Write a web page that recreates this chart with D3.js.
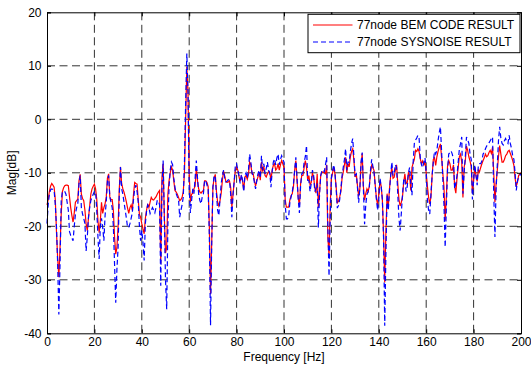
<!DOCTYPE html>
<html>
<head>
<meta charset="utf-8">
<script src="https://cdn.jsdelivr.net/npm/d3@7"></script>
<style>
  body { margin: 0; background: #fff; }
  svg { display: block; font-family: 'Liberation Sans', Arial, sans-serif; }
</style>
</head>
<body>
<div id="chart"></div>
<script>
// frequency step of the two spectra, Hz (0 .. 200)
const freqStep = 0.5;

// 77node BEM CODE RESULT, dB, one row = 10 Hz
const bemValues = [
  -16, -15, -13.5, -12.5, -12, -12.3, -12.7, -15, -21, -26, -29.5, -24, -17.7, -13.5, -12.8, -12.4, -12.3, -12.3, -12.4, -14.5,
  -16.5, -18, -19.2, -17.5, -15.5, -15.2, -14.9, -11.5, -10.3, -14, -14.8, -15.2, -17, -19.5, -20.8, -18.5, -16.2, -14, -13, -12.5,
  -12.1, -13, -15, -19, -21.2, -19, -15.5, -17.6, -16.5, -15.8, -14.5, -11, -10.2, -14.5, -15, -15, -17, -22, -25.2, -24,
  -20, -13, -8.9, -12, -13, -13.6, -14.5, -15.5, -16.6, -17.6, -16.5, -16, -17, -14, -11.8, -12, -12.1, -15, -17.8, -18.3,
  -19.5, -20.5, -21.4, -18.5, -17, -15.8, -16.5, -15.5, -14.6, -15, -15.1, -14.8, -14.5, -14, -13.6, -13.3, -27, -11, -8.3, -18,
  -25, -24, -14, -11.5, -10, -8.9, -9.5, -11.5, -13.3, -13.6, -14, -14.6, -15.2, -15, -14.6, -13.5, -10, 0, 9.8, 5,
  -10.2, -15.5, -14, -13.8, -13, -12.5, -9, -11.5, -13, -13.6, -13.8, -13.5, -13.3, -11.5, -11.5, -11.8, -12.6, -20, -32.7, -23,
  -12.7, -11, -10.3, -13.5, -15.5, -16.2, -15.2, -13.8, -11.4, -9.7, -10.6, -11.7, -11.8, -11.7, -11.5, -12.7, -16.4, -14, -11.5, -9.5,
  -8.9, -9.5, -10.7, -11.6, -10.7, -11.5, -13.2, -10.8, -10.5, -11.2, -10.3, -8, -8.5, -10.2, -10.2, -11.4, -12.5, -11.5, -10.8, -9.8,
  -11.4, -8, -9.8, -8.8, -10.5, -10.8, -10.2, -9.8, -10, -11.3, -9.5, -8.6, -8.3, -9.5, -9.2, -8.3, -9.5, -8.5, -7.7, -8.3,
  -9, -15, -16.4, -16.4, -16.4, -15, -14.3, -13.9, -12.5, -9.5, -7.7, -11.4, -14.6, -16.2, -12, -10.5, -10.5, -9, -7.7, -9,
  -11.4, -10.5, -12.3, -11.8, -10, -10.8, -12.8, -13.8, -10.2, -16.5, -13.5, -10.5, -9.8, -9.9, -10, -10.2, -8.5, -22, -25.5, -16,
  -11, -10, -9, -10.2, -12.6, -15.6, -15.3, -14.5, -13.5, -11, -9.9, -8.5, -7.1, -10, -8.3, -8.9, -7, -6, -5.5, -7.7,
  -10.8, -10.2, -12.4, -14.4, -13, -8.5, -6.4, -12.6, -15.1, -13.9, -13, -13.5, -12.5, -10, -8.6, -9, -9.6, -12.3, -14.8, -16,
  -14, -11.4, -12.5, -15, -21.4, -30.5, -21, -13.9, -16.4, -13, -10.5, -9, -11, -10.8, -9.5, -8.5, -12, -15, -16.2, -15.5,
  -14.5, -11.8, -10.2, -12, -11.8, -10, -10.5, -13.3, -9, -8.2, -7.5, -5.8, -6, -5.5, -6, -7.4, -8.3, -7.8, -8.5, -7.9,
  -10, -12.5, -14.5, -15.8, -14.5, -10.5, -7.5, -7.2, -8.6, -7, -6, -5.2, -4.6, -7.2, -10, -12.6, -18.9, -14.5, -8.8, -7.7,
  -8.3, -9.5, -9.5, -8.5, -12.6, -13.8, -11, -9, -7, -6.5, -8, -14.6, -9, -7.8, -5, -5.8, -7, -7.8, -8.8, -13.8,
  -11.4, -9, -10.5, -11.6, -9.5, -9.8, -9, -8.3, -7.7, -7.2, -6.5, -7, -6.8, -6.2, -5.8, -6.4, -5.2, -10, -15.5, -12,
  -9.5, -7, -4.9, -6.5, -8, -8, -7.5, -6.8, -6.5, -6, -5.8, -6.4, -7, -7.7, -8.6, -11, -12.5, -11.8, -10.5, -10.2,
  -10
];

// 77node SYSNOISE RESULT, dB, one row = 10 Hz
const sysnoiseValues = [
  -19.5, -16, -14, -13.2, -13, -13.1, -13.3, -16, -20, -27, -36.5, -27, -15.2, -13.5, -13.5, -13.5, -14, -15.5, -17, -21,
  -21.7, -22.2, -22.7, -20, -17.7, -16.5, -15.8, -12, -10.5, -16.5, -17.7, -18.5, -19.5, -24.6, -22, -18.3, -16.5, -15.2, -14.5, -14,
  -13.5, -13.5, -17, -22, -26.1, -20, -18.5, -20.2, -22.7, -18, -15.5, -11.5, -10.5, -14.5, -15.5, -16.5, -20, -27, -34.3, -28,
  -24, -14, -8.9, -13, -14, -15.5, -17, -18.5, -20.2, -20.2, -19.5, -18.5, -17.5, -15, -13, -12.3, -13.5, -15.5, -20, -22.7,
  -20.8, -23, -26.4, -19.5, -17.2, -16, -16.5, -17.6, -17, -16.5, -17, -17.5, -16.5, -15.2, -15.2, -16, -31.1, -13, -7.7, -18,
  -30, -35.5, -20, -12.5, -9.5, -8, -8.5, -11, -12.7, -13.9, -14.5, -15, -18.3, -17, -16, -14.5, -8, 3, 12.3, 5,
  -12.7, -17.5, -15.2, -13, -13.9, -11, -7.7, -11, -14, -15.2, -15.8, -14.5, -13.9, -11.4, -11.5, -12.3, -13, -22, -38.5, -23,
  -12.7, -10.5, -10.8, -14, -17, -18, -15, -12, -10.5, -9.5, -11, -11.7, -11.6, -11.3, -11.4, -14, -18.3, -14, -11.5, -8.5,
  -8.3, -9.5, -10.5, -12, -10.3, -11.3, -13.5, -10.5, -10, -11, -9.5, -6.5, -8, -10, -10.5, -11.8, -13, -11.5, -10.2, -9.5,
  -11, -6.8, -9.5, -8.3, -10.2, -9.2, -8, -9.5, -10, -12.7, -9.8, -8, -7.4, -8.5, -7.2, -6.5, -8.5, -7.5, -6.8, -7.5,
  -8, -16, -18.6, -18.6, -18, -15.5, -14.5, -13.5, -12, -9.5, -7.1, -11, -15, -17.5, -12.5, -10.2, -10, -8, -7, -4.9,
  -11.4, -11.5, -13.5, -12, -9.5, -10.5, -13.5, -13, -12, -20.2, -14, -10.5, -9.5, -9.5, -9.8, -8.5, -7.1, -20, -29.3, -18.5,
  -11, -9.5, -8.5, -10, -13, -16.6, -16.1, -15, -13, -10.5, -9, -7.5, -5.5, -9.5, -8, -8, -6, -4.5, -3.6, -7,
  -10.5, -10.2, -12.8, -15.6, -13, -8, -6.2, -13, -19.6, -16, -14, -13.5, -12.7, -9.5, -7.5, -8.8, -10, -12.5, -15, -17,
  -15, -11, -12.5, -15, -22, -38.6, -25, -14, -17, -13.5, -10.5, -8, -10.5, -10, -8.5, -9, -14, -18.5, -20.8, -17.6,
  -14, -11.4, -11, -13.5, -12.6, -10, -9, -12, -14.2, -8, -4.5, -3.9, -3.5, -3, -3.5, -7.2, -8.5, -9, -8, -7.2,
  -10, -15, -17, -17.7, -14, -10.5, -8, -6, -6.5, -5.8, -4, -2.5, -1.4, -6, -11, -16, -23.9, -16.6, -9.5, -6.5,
  -6.2, -5.9, -6.5, -7.5, -13, -12, -10.5, -8, -5.5, -4.5, -3.3, -13.9, -10, -7, -3.3, -3.8, -4.5, -6.5, -7.5, -15,
  -11.4, -8.5, -10.5, -12.3, -8.6, -8.3, -8.3, -7.8, -6.5, -6.2, -5.5, -5, -4.8, -4.4, -4, -3.6, -3.3, -14, -22, -13,
  -8.5, -4, -1.4, -3.5, -4.5, -4.8, -4, -3.6, -4.2, -4.5, -3, -4.5, -5.5, -6.8, -7.5, -10, -13.3, -11.5, -10.8, -10.5,
  -10.2
];

const xTicks = [0, 20, 40, 60, 80, 100, 120, 140, 160, 180, 200];
const yTicks = [-40, -30, -20, -10, 0, 10, 20];
const seriesNames = ['77node BEM CODE RESULT', '77node SYSNOISE RESULT'];

const width = 531, height = 367;
const margin = {top: 12.3, right: 10, bottom: 33.7, left: 47};
const innerW = width - margin.left - margin.right;
const innerH = height - margin.top - margin.bottom;

const svg = d3.select('#chart').append('svg')
  .attr('width', width)
  .attr('height', height);

const g = svg.append('g')
  .attr('transform', 'translate(' + margin.left + ',' + margin.top + ')');

const x = d3.scaleLinear().domain([0, 200]).range([0, innerW]);
const y = d3.scaleLinear().domain([-40, 20]).range([innerH, 0]);

// grid (dashed, MATLAB style)
g.append('g').selectAll('line')
  .data(xTicks.slice(1, -1))
  .enter().append('line')
  .attr('x1', d => x(d)).attr('x2', d => x(d))
  .attr('y1', 0).attr('y2', innerH)
  .attr('stroke', '#333').attr('stroke-width', 1)
  .attr('stroke-dasharray', '8,4.5');

g.append('g').selectAll('line')
  .data(yTicks.slice(1, -1))
  .enter().append('line')
  .attr('x1', 0).attr('x2', innerW)
  .attr('y1', d => y(d)).attr('y2', d => y(d))
  .attr('stroke', '#333').attr('stroke-width', 1)
  .attr('stroke-dasharray', '8,4.5');

const toPoints = vals => vals.map((v, i) => ({f: i * freqStep, v: v}));

const line = d3.line()
  .x(d => x(d.f))
  .y(d => y(d.v));

plot = g.append('g');

plot.append('path')
  .datum(toPoints(bemValues))
  .attr('d', line)
  .attr('fill', 'none')
  .attr('stroke', '#ff0000')
  .attr('stroke-width', 1.2);

plot.append('path')
  .datum(toPoints(sysnoiseValues))
  .attr('d', line)
  .attr('fill', 'none')
  .attr('stroke', '#0000ff')
  .attr('stroke-width', 1.2)
  .attr('stroke-dasharray', '5,3');

// axes: ticks point inwards, box on all sides
const fmt = d => String(d);
g.append('g')
  .attr('transform', 'translate(0,' + innerH + ')')
  .call(d3.axisBottom(x).tickValues(xTicks).tickSize(-4).tickPadding(4.5).tickFormat(fmt));
g.append('g')
  .call(d3.axisLeft(y).tickValues(yTicks).tickSize(-4).tickPadding(5.5).tickFormat(fmt));
g.append('g')
  .call(d3.axisTop(x).tickValues(xTicks).tickSize(-4).tickFormat(''));
g.append('g')
  .attr('transform', 'translate(' + innerW + ',0)')
  .call(d3.axisRight(y).tickValues(yTicks).tickSize(-4).tickFormat(''));

g.selectAll('.domain').attr('stroke', '#000');
g.selectAll('.tick line').attr('stroke', '#000');
g.selectAll('.tick text')
  .attr('fill', '#000')
  .style('font-size', '12px')
  .style('font-family', "'Liberation Sans', Arial, sans-serif");

// axis labels
svg.append('text')
  .attr('x', margin.left + innerW / 2)
  .attr('y', 361)
  .attr('text-anchor', 'middle')
  .attr('font-size', 12)
  .text('Frequency [Hz]');

svg.append('text')
  .attr('transform', 'translate(16,' + (margin.top + innerH / 2) + ') rotate(-90)')
  .attr('text-anchor', 'middle')
  .attr('font-size', 12)
  .text('Mag[dB]');

// legend
const legend = g.append('g')
  .attr('transform', 'translate(' + (x(200) - 213) + ',2)');

legend.append('rect')
  .attr('width', 212).attr('height', 38.4)
  .attr('fill', '#fff')
  .attr('stroke', '#000')
  .attr('stroke-width', 1);

const items = legend.selectAll('.item')
  .data(seriesNames)
  .enter().append('g')
  .attr('class', 'item')
  .attr('transform', (d, i) => 'translate(0,' + (10.7 + i * 17) + ')');

items.append('line')
  .attr('x1', 5).attr('x2', 44.5)
  .attr('stroke', (d, i) => i === 0 ? '#ff0000' : '#0000ff')
  .attr('stroke-width', 1.2)
  .attr('stroke-dasharray', (d, i) => i === 0 ? null : '5,3');

items.append('text')
  .attr('x', 49)
  .attr('dy', '0.35em')
  .attr('font-size', 12)
  .text(d => d);
</script>
</body>
</html>
